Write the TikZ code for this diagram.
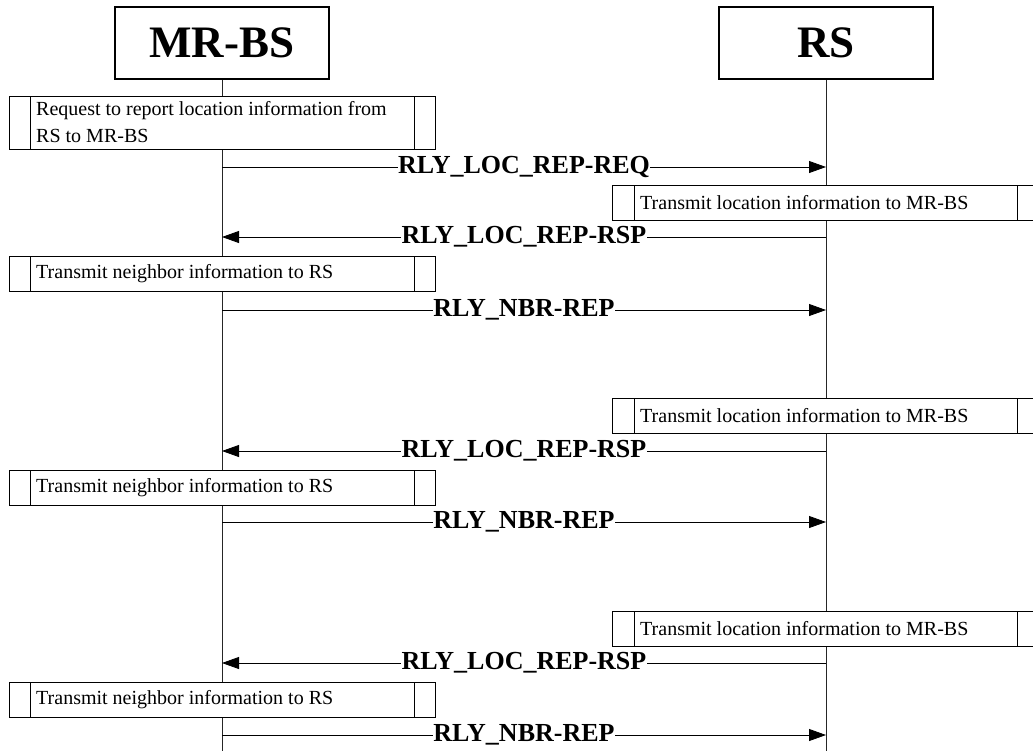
\documentclass[tikz,border=0pt]{standalone}
\usepackage{fontspec}
\setmainfont{Liberation Serif}
\usetikzlibrary{arrows.meta}
\begin{document}
\begin{tikzpicture}[x=1pt,y=-1pt,
  entity/.style={draw,line width=2pt,minimum width=214pt,minimum height=72pt,
    inner sep=0pt,font=\fontsize{45}{45}\selectfont\bfseries},
  life/.style={line width=0.6pt,draw=black!85},
  actbox/.style={draw,line width=0.8pt},
  acttext/.style={anchor=west,inner sep=0pt,align=left,
    font=\fontsize{20}{27}\selectfont},
  msg/.style={line width=0.8pt,-{Triangle[length=17pt,width=12pt]}},
  msglabel/.style={fill=white,inner sep=0.5pt,font=\fontsize{26}{26}\selectfont\bfseries}]
\clip (0,0) rectangle (1033,750);
\useasboundingbox (0,0) rectangle (1033,750);
\fill[white] (0,0) rectangle (1033,750);

% participants
\node[entity] (mrbs) at (222,43) {MR-BS};
\node[entity] (rs) at (826,43) {RS};
\coordinate (mrbsEnd) at (222,760);
\coordinate (rsEnd) at (826,760);
\draw[life] (mrbs.south) -- (mrbsEnd);
\draw[life] (rs.south) -- (rsEnd);

% action box on the MR-BS side: \mrbsact{name}{top}{bottom}{text}
\newcommand{\mrbsact}[4]{%
  \fill[white] (9,#2) rectangle (435,#3);
  \draw[actbox] (9,#2) rectangle (435,#3);
  \draw[actbox] (30,#2) -- (30,#3) (414,#2) -- (414,#3);
  \node[acttext] (#1) at (36,{(#2+#3)/2}) {#4};}
% action box on the RS side
\newcommand{\rsact}[4]{%
  \fill[white] (612,#2) rectangle (1040,#3);
  \draw[actbox] (612,#2) rectangle (1040,#3);
  \draw[actbox] (634,#2) -- (634,#3) (1017,#2) -- (1017,#3);
  \node[acttext] (#1) at (640,{(#2+#3)/2}) {#4};}

\mrbsact{a1}{96}{149}{Request to report location information from\\RS to MR-BS}

\coordinate (m1s) at (222,167); \coordinate (m1e) at (826,167);
\draw[msg] (m1s) -- (m1e) node[msglabel,pos=0.5] (l1) {RLY\_LOC\_REP-REQ};

\rsact{a2}{185}{220}{Transmit location information to MR-BS}

\coordinate (m2s) at (826,237); \coordinate (m2e) at (222,237);
\draw[msg] (m2s) -- (m2e) node[msglabel,pos=0.5] (l2) {RLY\_LOC\_REP-RSP};

\mrbsact{a3}{256}{291}{Transmit neighbor information to RS}

\coordinate (m3s) at (222,310); \coordinate (m3e) at (826,310);
\draw[msg] (m3s) -- (m3e) node[msglabel,pos=0.5] (l3) {RLY\_NBR-REP};

\rsact{a4}{398}{433}{Transmit location information to MR-BS}

\coordinate (m4s) at (826,451); \coordinate (m4e) at (222,451);
\draw[msg] (m4s) -- (m4e) node[msglabel,pos=0.5] (l4) {RLY\_LOC\_REP-RSP};

\mrbsact{a5}{470}{505}{Transmit neighbor information to RS}

\coordinate (m5s) at (222,522); \coordinate (m5e) at (826,522);
\draw[msg] (m5s) -- (m5e) node[msglabel,pos=0.5] (l5) {RLY\_NBR-REP};

\rsact{a6}{611}{646}{Transmit location information to MR-BS}

\coordinate (m6s) at (826,663); \coordinate (m6e) at (222,663);
\draw[msg] (m6s) -- (m6e) node[msglabel,pos=0.5] (l6) {RLY\_LOC\_REP-RSP};

\mrbsact{a7}{682}{717}{Transmit neighbor information to RS}

\coordinate (m7s) at (222,735); \coordinate (m7e) at (826,735);
\draw[msg] (m7s) -- (m7e) node[msglabel,pos=0.5] (l7) {RLY\_NBR-REP};
\end{tikzpicture}
\end{document}
